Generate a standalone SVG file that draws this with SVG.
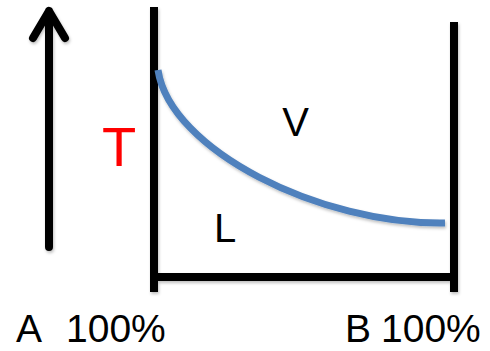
<svg xmlns="http://www.w3.org/2000/svg" width="490" height="351" viewBox="0 0 490 351">
  <style>
    .ax { fill: none; stroke: #000; stroke-width: 8; }
    .lbl { font-family: "Liberation Sans", Arial, sans-serif; fill: #000; }
  </style>
  <defs>
    <filter id="sh" x="-20%" y="-20%" width="140%" height="140%">
      <feDropShadow dx="1" dy="2" stdDeviation="1.5" flood-color="#000" flood-opacity="0.25"/>
    </filter>
  </defs>
  <rect width="490" height="351" fill="#fff"/>
  <g id="connectors" filter="url(#sh)">
    <path id="t-arrow" class="ax" d="M49,247 V11 M33,38 L49,11 L65,38" stroke-linecap="round" stroke-linejoin="round"/>
    <path id="left-axis" class="ax" d="M154,7 V292"/>
    <path id="right-axis" class="ax" d="M454,22 V292"/>
    <path id="bottom-axis" class="ax" d="M154,277 H454"/>
    <path id="curve" d="M158,70 C170,150 320,225 445,223" fill="none" stroke="#4F81BD" stroke-width="7"/>
  </g>
  <g id="label-T"><text x="119" y="166" text-anchor="middle" font-family="Liberation Sans, Arial, sans-serif" font-size="56" fill="#FF0000">T</text></g>
  <g id="label-V"><text class="lbl" x="295.5" y="136" text-anchor="middle" font-size="40">V</text></g>
  <g id="label-L"><text class="lbl" x="214" y="242" font-size="40">L</text></g>
  <g id="label-A"><text class="lbl" y="342" font-size="39"><tspan x="16">A</tspan><tspan x="66">100%</tspan></text></g>
  <g id="label-B"><text class="lbl" y="342" font-size="39"><tspan x="345">B</tspan><tspan x="381">100%</tspan></text></g>
</svg>
